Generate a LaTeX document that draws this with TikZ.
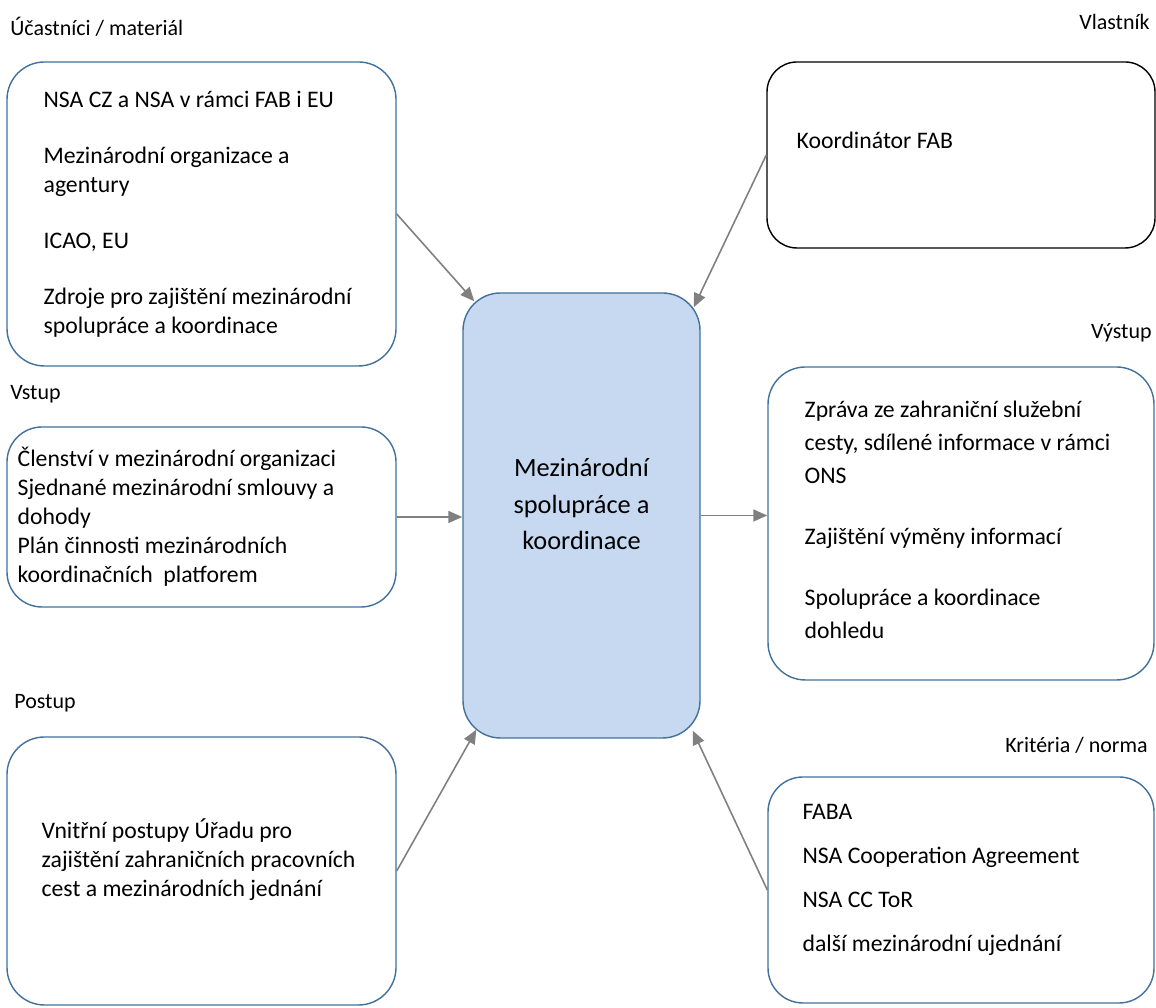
\documentclass[tikz,border=0pt]{standalone}
\usepackage{fontspec}
\setmainfont{Carlito}
\usetikzlibrary{calc, arrows.meta, positioning}

\definecolor{boxblue}{HTML}{41719C}
\definecolor{fillblue}{HTML}{C6D9F0}
\definecolor{arrowgray}{HTML}{808080}

\tikzset{
  proc/.style={draw=boxblue, line width=0.8pt, rounded corners=0.75cm, fill=white},
  body/.style={inner sep=0pt, anchor=west, align=left, font=\fontsize{13.5}{16.5}\selectfont},
  tag/.style={inner sep=0pt, font=\fontsize{12.5}{15}\selectfont},
  flow/.style={draw=arrowgray, line width=0.9pt, -{Triangle[length=0.28cm,width=0.24cm]}}
}

\begin{document}
\begin{tikzpicture}
    \useasboundingbox (0,0) rectangle (23.12,20.16);

    % boxes
    \node[proc, minimum width=7.78cm, minimum height=6.08cm] (part) at (4.03,15.88) {};
    \node[proc, draw=black, minimum width=7.76cm, minimum height=3.72cm, rounded corners=0.6cm] (own) at (19.22,17.06) {};
    \node[proc, fill=fillblue, minimum width=4.74cm, minimum height=8.9cm] (centre) at (11.63,9.85) {};
    \node[proc, minimum width=7.78cm, minimum height=3.6cm, rounded corners=0.7cm] (input) at (4.03,9.82) {};
    \node[proc, minimum width=7.72cm, minimum height=6.26cm] (output) at (19.22,9.69) {};
    \node[proc, minimum width=7.78cm, minimum height=5.36cm] (proced) at (4.03,2.74) {};
    \node[proc, minimum width=7.72cm, minimum height=4.52cm, rounded corners=0.7cm] (crit) at (19.22,2.36) {};

    % texts in the boxes
    \node[body] (parttext) at ($(part.west)+(0.74,0)$) {NSA CZ a NSA v rámci FAB i EU\\[15.4pt]
        Mezinárodní organizace a\\ agentury\\[15.4pt]
        ICAO, EU\\[15.4pt]
        Zdroje pro zajištění mezinárodní\\ spolupráce a koordinace};
    \node[body] (owntext) at ($(own.west)+(0.6,0.3)$) {Koordinátor FAB};
    \node[align=center, inner sep=0pt, font=\fontsize{15}{21}\selectfont] (centretext) at ($(centre.center)+(0,0.23)$) {Mezinárodní\\ spolupráce a\\ koordinace};
    \node[body] (inputtext) at ($(input.west)+(0.22,0)$) {Členství v mezinárodní organizaci\\
        Sjednané mezinárodní smlouvy a\\ dohody\\
        Plán činnosti mezinárodních\\ koordinačních\ \ platforem};
    \node[body, font=\fontsize{13.5}{18.8}\selectfont] (outputtext) at ($(output.west)+(0.74,0.08)$) {Zpráva ze zahraniční služební\\ cesty, sdílené informace v rámci\\ ONS\\[15.9pt]
        Zajištění výměny informací\\[15.9pt]
        Spolupráce a koordinace\\ dohledu};
    \node[body] (procedtext) at ($(proced.west)+(0.7,0.22)$) {Vnitřní postupy Úřadu pro\\ zajištění zahraničních pracovních\\ cest a mezinárodních jednání};
    \node[body] (crittext) at ($(crit.west)+(0.7,0.2)$) {FABA\\[8.5pt] NSA Cooperation Agreement\\[8.5pt] NSA CC ToR\\[8.5pt] další mezinárodní ujednání};

    % labels
    \node[tag, anchor=west] (partlabel) at (0.2,19.62) {Účastníci / materiál};
    \node[tag, anchor=east] (ownlabel) at (23.0,19.72) {Vlastník};
    \node[tag, anchor=east] (outputlabel) at (23.04,13.5) {Výstup};
    \node[tag, anchor=west] (inputlabel) at (0.2,12.28) {Vstup};
    \node[tag, anchor=west] (procedlabel) at (0.28,6.1) {Postup};
    \node[tag, anchor=east] (critlabel) at (22.96,5.26) {Kritéria / norma};

    % arrows
    \draw[flow] (part.east) -- ($(centre.north west)+(0.24,-0.18)$);
    \draw[flow] (own.west) -- ($(centre.north east)+(-0.14,-0.3)$);
    \draw[flow] (input.east) -- (input.east -| centre.west);
    \draw[flow] (centre.east) -- (centre.east -| output.west);
    \draw[flow] (proced.east) -- ($(centre.south west)+(0.28,0.18)$);
    \draw[flow] (crit.west) -- ($(centre.south east)+(-0.16,0.16)$);
\end{tikzpicture}
\end{document}
